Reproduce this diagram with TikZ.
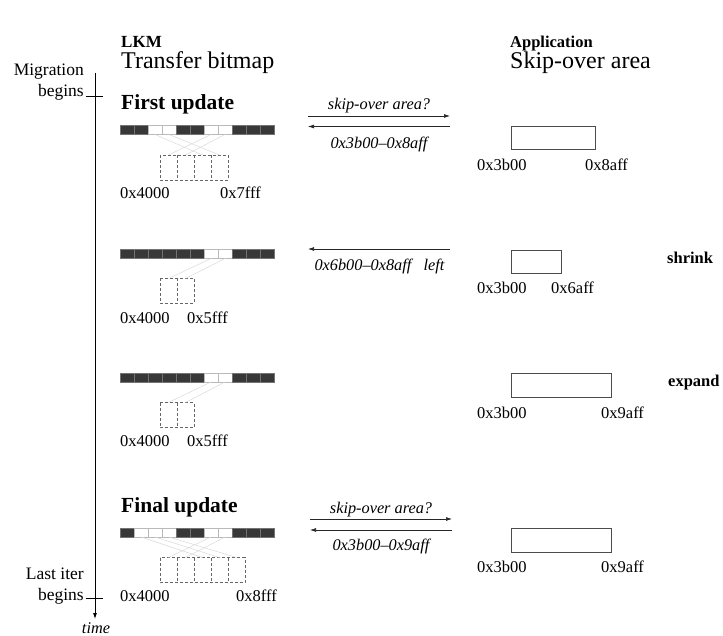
\documentclass[tikz,border=0pt]{standalone}
\usepackage{fontspec}
\setmainfont{Liberation Serif}
\usetikzlibrary{arrows.meta}
\newcommand{\fsz}[1]{\fontsize{#1}{#1}\selectfont}
\newcommand{\bitrow}[3]{\foreach \v [count=\i] in {#3} \node[cell\v] (#1-\i) at ({113+14*\i},#2) {};}
\newcommand{\dboxes}[3]{%
  \foreach \i in {1,...,#3} \node[dbox] (#1-\i) at ({151.5+17*\i},#2) {};
  \draw[dline] (#1-1.north west) rectangle (#1-#3.south east);
  \foreach \i in {2,...,#3} \draw[dline] (#1-\i.north west) -- (#1-\i.south west);}
\begin{document}
\begin{tikzpicture}[x=1pt,y=-1pt,
  lbl/.style={inner sep=0pt, anchor=base west, font=\fsz{16.5}},
  hdr/.style={lbl, font=\fsz{24}},
  bhdr/.style={lbl, font=\bfseries\fsz{17}},
  upd/.style={lbl, font=\bfseries\fsz{21.5}},
  msg/.style={inner sep=0pt, anchor=base, font=\itshape\fsz{16.3}},
  side/.style={inner sep=0pt, anchor=base east, font=\fsz{17.5}},
  cell0/.style={draw=gray!55, fill=white, line width=0.4pt, minimum width=14pt, minimum height=9pt, inner sep=0pt, outer sep=0pt},
  cell1/.style={cell0, draw=black!55, fill=black!78},
  dbox/.style={minimum width=17pt, minimum height=25pt, inner sep=0pt, outer sep=0pt},
  dline/.style={draw=black!60, dash pattern=on 3pt off 2pt, line width=0.6pt},
  link/.style={draw=gray!30, line width=0.5pt},
  msgarrow/.style={draw=black!85, line width=0.7pt, -{Latex[length=6pt,width=4pt]}},
  areabox/.style={draw=black!70, line width=0.7pt, inner sep=0pt, outer sep=0pt, anchor=north west},
  axis/.style={draw=black, line width=0.8pt},
]
\useasboundingbox (0,0) rectangle (723,636);

% headers
\node[bhdr] (lkm) at (121,48) {LKM};
\node[bhdr, font=\bfseries\fsz{16.5}] (app) at (510,47.5) {Application};
\node[hdr] (tb) at (121,69) {Transfer bitmap};
\node[hdr] (sa) at (510,69) {Skip-over area};

% timeline
\coordinate (ttop) at (95,73);
\coordinate (tend) at (95,619);
\draw[axis, -{Latex[length=6pt,width=4pt]}] (ttop) -- (tend);
\coordinate (k1a) at (86,96); \coordinate (k1b) at (103,96);
\coordinate (k2a) at (86,598); \coordinate (k2b) at (103,598);
\draw[axis] (k1a) -- (k1b);
\draw[axis] (k2a) -- (k2b);
\node[side] (mig) at (84,75.5) {Migration};
\node[side] (beg1) at (84,96.5) {begins};
\node[side] (last) at (84,579) {Last iter};
\node[side] (beg2) at (84,600) {begins};
\node[msg] (time) at (96,633) {time};

% first update
\node[upd] (fu) at (121,109.5) {First update};
\bitrow{ra}{130}{1,1,0,0,1,1,0,0,1,1,1}
\dboxes{da}{167.5}{4}
\draw[link] (ra-3.south) -- (da-3.north);
\draw[link] (ra-4.south) -- (da-4.north);
\draw[link] (ra-7.south) -- (da-1.north);
\draw[link] (ra-8.south) -- (da-2.north);
\node[lbl] (la1) at (120,199) {0x4000};
\node[lbl] (la2) at (220,199) {0x7fff};

% row 2
\bitrow{rb}{254}{1,1,1,1,1,1,0,0,1,1,1}
\dboxes{db}{291}{2}
\draw[link] (rb-7.south) -- (db-1.north);
\draw[link] (rb-8.south) -- (db-2.north);
\node[lbl] (lb1) at (120,324) {0x4000};
\node[lbl] (lb2) at (187,324) {0x5fff};

% row 3
\bitrow{rc}{377.5}{1,1,1,1,1,1,0,0,1,1,1}
\dboxes{dc}{415}{2}
\draw[link] (rc-7.south) -- (dc-1.north);
\draw[link] (rc-8.south) -- (dc-2.north);
\node[lbl] (lc1) at (120,446.5) {0x4000};
\node[lbl] (lc2) at (187,446.5) {0x5fff};

% final update
\node[upd] (fin) at (121,512) {Final update};
\bitrow{rd}{532.5}{1,0,0,0,1,1,0,0,1,1,1}
\dboxes{dd}{570}{5}
\draw[link] (rd-2.south) -- (dd-3.north);
\draw[link] (rd-3.south) -- (dd-4.north);
\draw[link] (rd-4.south) -- (dd-5.north);
\draw[link] (rd-7.south) -- (dd-1.north);
\draw[link] (rd-8.south) -- (dd-2.north);
\node[lbl] (ld1) at (120,601.5) {0x4000};
\node[lbl] (ld2) at (236,601.5) {0x8fff};

% messages
\coordinate (m1a) at (308,116); \coordinate (m1b) at (450,116);
\coordinate (m2a) at (308,126.5); \coordinate (m2b) at (450,126.5);
\draw[msgarrow] (m1a) -- (m1b);
\draw[msgarrow] (m2b) -- (m2a);
\node[msg] (q1) at (379,109.5) {skip-over area?};
\node[msg] (r1) at (379,149) {0x3b00–0x8aff};

\coordinate (m3a) at (308,249); \coordinate (m3b) at (450,249);
\draw[msgarrow] (m3b) -- (m3a);
\node[msg] (r2) at (379.5,271) {0x6b00–0x8aff\hspace{0.75em}left};

\coordinate (m4a) at (310,519); \coordinate (m4b) at (452,519);
\coordinate (m5a) at (310,530); \coordinate (m5b) at (452,530);
\draw[msgarrow] (m4a) -- (m4b);
\draw[msgarrow] (m5b) -- (m5a);
\node[msg] (q2) at (381,513) {skip-over area?};
\node[msg] (r3) at (381,550.5) {0x3b00–0x9aff};

% application areas
\node[areabox, minimum width=84pt, minimum height=23pt] (ap1) at (511,126) {};
\node[lbl] (pa1) at (477,170.5) {0x3b00};
\node[lbl] (pa2) at (585,170.5) {0x8aff};

\node[areabox, minimum width=50pt, minimum height=23pt] (ap2) at (511,250) {};
\node[lbl] (pb1) at (477,294) {0x3b00};
\node[lbl] (pb2) at (551,294) {0x6aff};
\node[lbl, font=\bfseries\fsz{16.5}] (shr) at (667,264) {shrink};

\node[areabox, minimum width=100pt, minimum height=24pt] (ap3) at (511,373) {};
\node[lbl] (pc1) at (477,418) {0x3b00};
\node[lbl] (pc2) at (601,418) {0x9aff};
\node[lbl, font=\bfseries\fsz{16.5}] (exp) at (668,386) {expand};

\node[areabox, minimum width=100pt, minimum height=24pt] (ap4) at (511,528) {};
\node[lbl] (pd1) at (477,572) {0x3b00};
\node[lbl] (pd2) at (601,572) {0x9aff};
\end{tikzpicture}
\end{document}
